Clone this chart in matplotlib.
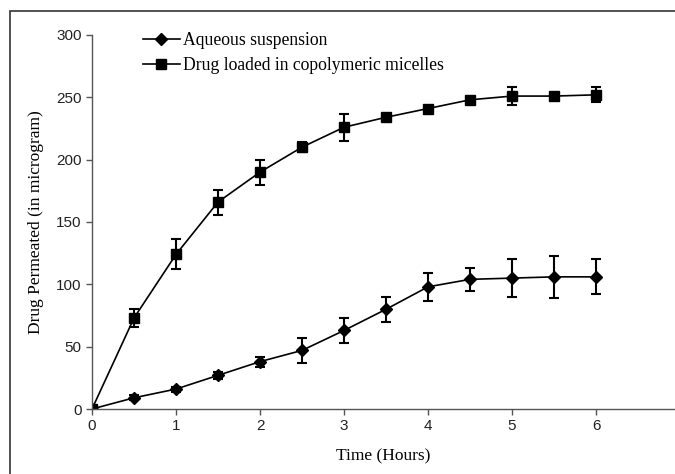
import matplotlib
matplotlib.use("Agg")
import matplotlib.pyplot as plt
from matplotlib.patches import Rectangle

# data
time_h = [0, 0.5, 1, 1.5, 2, 2.5, 3, 3.5, 4, 4.5, 5, 5.5, 6]
aqueous = [0, 9, 16, 27, 38, 47, 63, 80, 98, 104, 105, 106, 106]
aqueous_err = [0, 2, 2, 3, 4, 10, 10, 10, 11, 9, 15, 17, 14]
micelles = [0, 73, 124, 166, 190, 210, 226, 234, 241, 248, 251, 251, 252]
micelles_err = [0, 7, 12, 10, 10, 4, 11, 3, 2, 2, 7, 2, 6]

y_ticks = [0, 50, 100, 150, 200, 250, 300]
x_ticks = [0, 1, 2, 3, 4, 5, 6]

fig = plt.figure(figsize=(6.75, 4.74), dpi=100)
ax = fig.add_axes([0.1363, 0.1371, 0.8637, 0.7891])

# outer frame around the whole figure
fig.patches.append(Rectangle((10 / 675, -0.05), 1.1, 1 - 11 / 474 + 0.05,
                             transform=fig.transFigure, fill=False,
                             edgecolor="#333333", linewidth=1.2))

# error bars first, then the lines with markers (so the legend stays clean)
ax.errorbar(time_h, aqueous, yerr=aqueous_err, fmt="none", ecolor="black",
            elinewidth=1.5, capsize=3.5, capthick=1.5)
ax.errorbar(time_h, micelles, yerr=micelles_err, fmt="none", ecolor="black",
            elinewidth=1.5, capsize=3.5, capthick=1.5)
ax.plot(time_h, aqueous, color="black", marker="D", markersize=6,
        linewidth=1.2, label="Aqueous suspension")
ax.plot(time_h, micelles, color="black", marker="s", markersize=7.5,
        linewidth=1.2, label="Drug loaded in copolymeric micelles")

ax.set_xlim(0, 6.94)
ax.set_ylim(0, 300)
ax.set_xticks(x_ticks)
ax.set_yticks(y_ticks)
for spine in ["top", "right"]:
    ax.spines[spine].set_visible(False)
for spine in ["left", "bottom"]:
    ax.spines[spine].set_color("#555555")
    ax.spines[spine].set_linewidth(1.0)
ax.tick_params(direction="out", length=4, width=1, color="#555555",
               labelsize=11, labelcolor="#222222")
for lbl in ax.get_xticklabels() + ax.get_yticklabels():
    lbl.set_family("Liberation Sans")

ax.set_xlabel("Time (Hours)", family="Liberation Serif", fontsize=12.5, labelpad=11)
ax.set_ylabel("Drug Permeated (in microgram)", family="Liberation Serif",
              fontsize=12.5, labelpad=9)

ax.legend(loc="upper left", bbox_to_anchor=(0.06, 1.05), frameon=False,
          prop={"family": "Liberation Serif", "size": 12.7}, handlelength=2.1,
          handletextpad=0.2, labelspacing=0.45)

plt.savefig("out.png", dpi=100)
